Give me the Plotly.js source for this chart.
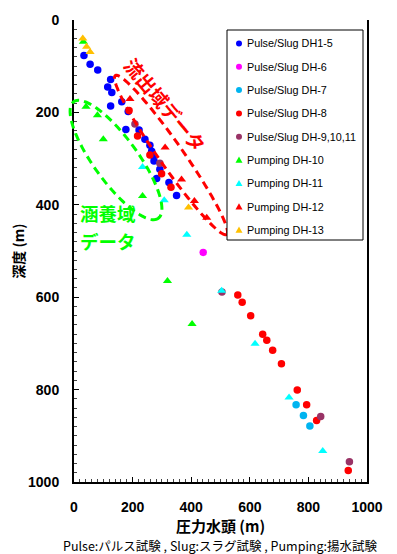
<!DOCTYPE html>
<html>
<head>
<meta charset="utf-8">
<script src="https://cdn.plot.ly/plotly-3.0.1.min.js"></script>
<style>html,body{margin:0;padding:0;background:#fff;}#chart{width:397px;height:554px;}</style>
</head>
<body>
<div id="chart"></div>
<script>
// ---- data (pressure head x, depth y) ----
const seriesNames = ["Pulse/Slug DH1-5","Pulse/Slug DH-6","Pulse/Slug DH-7","Pulse/Slug DH-8","Pulse/Slug DH-9,10,11","Pumping DH-10","Pumping DH-11","Pumping DH-12","Pumping DH-13"];
const psDH1_5_x = [34,55,81,125,115,129,125,163,185,177,222,242,259,265,271,273,293,282,324,350];
const psDH1_5_y = [77,96,108,129,145,157,186,177,198,237,238,258,271,284,294,305,323,343,352,380];
const psDH6_x = [441];
const psDH6_y = [503];
const psDH7_x = [758,783,805];
const psDH7_y = [833,856,879];
const psDH8_x = [188,217,259,299,331,559,574,603,644,658,678,708,762,794,828,936];
const psDH8_y = [196,251,292,333,362,595,611,640,680,693,715,744,801,833,867,975];
const psDH9_x = [208,293,505,842,940];
const psDH9_y = [225,310,589,858,956];
const pmDH10_x = [32,41,80,100,234,319,403];
const pmDH10_y = [47,188,206,258,381,565,658];
const pmDH11_x = [234,308,385,504,618,734,849];
const pmDH11_y = [318,390,465,586,701,817,933];
const pmDH12_x = [191,311,367,411,453];
const pmDH12_y = [171,276,345,392,428];
const pmDH13_x = [30,43,55,391];
const pmDH13_y = [40,58,69,406];
const xTickVals = [0,200,400,600,800,1000];
const yTickVals = [0,200,400,600,800,1000];

const colors = ["#0000FF","#FF00FF","#00B4F0","#FF0000","#993366","#00FF00","#00FFFF","#FF0000","#FFC000"];
const symbols = ["circle","circle","circle","circle","circle","triangle-up","triangle-up","triangle-up","triangle-up"];
const xs = [psDH1_5_x,psDH6_x,psDH7_x,psDH8_x,psDH9_x,pmDH10_x,pmDH11_x,pmDH12_x,pmDH13_x];
const ys = [psDH1_5_y,psDH6_y,psDH7_y,psDH8_y,psDH9_y,pmDH10_y,pmDH11_y,pmDH12_y,pmDH13_y];

const traces = seriesNames.map((n,i)=>({
  type:"scatter", mode:"markers", name:n, x:xs[i], y:ys[i], showlegend:false,
  marker:{color:colors[i], symbol:symbols[i], size: symbols[i]==="circle"?7.5:8, line:{width:0}},
  cliponaxis:false
}));

// ---- geometry of plot area (px) ----
const W=397,H=554,ML=74,MR=30,MT=20,MB=72;
const PW=W-ML-MR, PH=H-MT-MB;
const px2x = p => (p-ML)/PW;
const py2y = p => 1-(p-MT)/PH;

function ellipsePath(cx,cy,a,b,angDeg,n){
  const t=angDeg*Math.PI/180, c=Math.cos(t), s=Math.sin(t);
  let d="";
  for(let k=0;k<=n;k++){
    const u=2*Math.PI*k/n;
    const ex=a*Math.cos(u), ey=b*Math.sin(u);
    const X=cx+ex*c-ey*s, Y=cy+ex*s+ey*c;
    d += (k===0?"M":"L")+px2x(X).toFixed(4)+","+py2y(Y).toFixed(4);
  }
  return d+"Z";
}

const shapes = [
  {type:"path", xref:"paper", yref:"paper", path:ellipsePath(171,155,97,12,55,120),
   line:{color:"#FF0000", width:3, dash:"8px,5px"}, layer:"above"},
  {type:"path", xref:"paper", yref:"paper", path:ellipsePath(116,160,72,22,54,120),
   line:{color:"#00FF00", width:3, dash:"8px,5px"}, layer:"above"},
  // legend box
  {type:"rect", xref:"paper", yref:"paper", x0:px2x(227), x1:px2x(363), y0:py2y(240), y1:py2y(30),
   line:{color:"#000", width:1}, fillcolor:"#fff", layer:"above"}
];

const annotations = [];
seriesNames.forEach((n,i)=>{
  const cy = 43.5 + 23.3*i;
  const ax = px2x(239), ay = py2y(cy);
  if(symbols[i]==="circle"){
    shapes.push({type:"circle", xref:"paper", yref:"paper", xsizemode:"pixel", ysizemode:"pixel",
      xanchor:ax, yanchor:ay, x0:-3, x1:3, y0:-3, y1:3, fillcolor:colors[i], line:{width:0}, layer:"above"});
  } else {
    shapes.push({type:"path", xref:"paper", yref:"paper", xsizemode:"pixel", ysizemode:"pixel",
      xanchor:ax, yanchor:ay, path:"M-3.5,-2.8L3.5,-2.8L0,3.4Z", fillcolor:colors[i], line:{width:0}, layer:"above"});
  }
  annotations.push({xref:"paper", yref:"paper", x:px2x(245), y:ay, xanchor:"left", yanchor:"middle",
    text:n, showarrow:false, font:{family:"Liberation Sans, Arial, sans-serif", size:10.8, color:"#000"}});
});

annotations.push({xref:"paper", yref:"paper", x:px2x(166), y:py2y(104), xanchor:"center", yanchor:"middle",
  text:"流出域データ", textangle:50,
  showarrow:false, font:{family:"Noto Sans CJK JP", size:19, color:"#FF0000", weight:"bold"}});
annotations.push({xref:"paper", yref:"paper", x:px2x(78), y:py2y(213.5), xanchor:"left", yanchor:"middle", align:"left",
  text:"涵養域", showarrow:false, font:{family:"Noto Sans CJK JP", size:18.5, color:"#00FF00", weight:"bold"}});
annotations.push({xref:"paper", yref:"paper", x:px2x(78), y:py2y(241), xanchor:"left", yanchor:"middle", align:"left",
  text:"データ", showarrow:false, font:{family:"Noto Sans CJK JP", size:18.5, color:"#00FF00", weight:"bold"}});
annotations.push({xref:"paper", yref:"paper", x:px2x(220), y:py2y(545.5), xanchor:"center", yanchor:"middle",
  text:"Pulse:パルス試験 , Slug:スラグ試験 , Pumping:揚水試験", showarrow:false,
  font:{family:"Noto Sans CJK JP", size:12.5, color:"#000"}});

const tickFont = {family:"Liberation Sans, Arial, sans-serif", size:14, color:"#000", weight:"bold"};
const layout = {
  width:W, height:H, margin:{l:ML,r:MR,t:MT,b:MB}, paper_bgcolor:"#fff", plot_bgcolor:"#fff",
  showlegend:false,
  xaxis:{range:[0,1000], tickvals:xTickVals, ticks:"inside", ticklen:5, tickwidth:1, tickcolor:"#000",
    minor:{dtick:20, ticks:"inside", ticklen:3, tickcolor:"#444", tickwidth:1},
    showline:true, linewidth:2, linecolor:"#000", showgrid:false, zeroline:false,
    tickfont:tickFont, ticklabelstandoff:11,
    title:{text:"圧力水頭 (m)", font:{family:"Noto Sans CJK JP", size:15, color:"#000", weight:"bold"}, standoff:0}},
  yaxis:{range:[1000,0], tickvals:yTickVals, ticks:"inside", ticklen:5, tickwidth:1, tickcolor:"#000",
    minor:{dtick:20, ticks:"inside", ticklen:3, tickcolor:"#444", tickwidth:1},
    showline:true, linewidth:2, linecolor:"#000", mirror:true, showgrid:false, zeroline:false,
    tickfont:tickFont, ticklabelstandoff:10,
    title:{text:"深度 (m)", font:{family:"Noto Sans CJK JP", size:14, color:"#000", weight:"bold"}, standoff:0}},
  shapes:shapes, annotations:annotations
};
Plotly.newPlot("chart", traces, layout, {staticPlot:true, displayModeBar:false});
</script>
</body>
</html>
